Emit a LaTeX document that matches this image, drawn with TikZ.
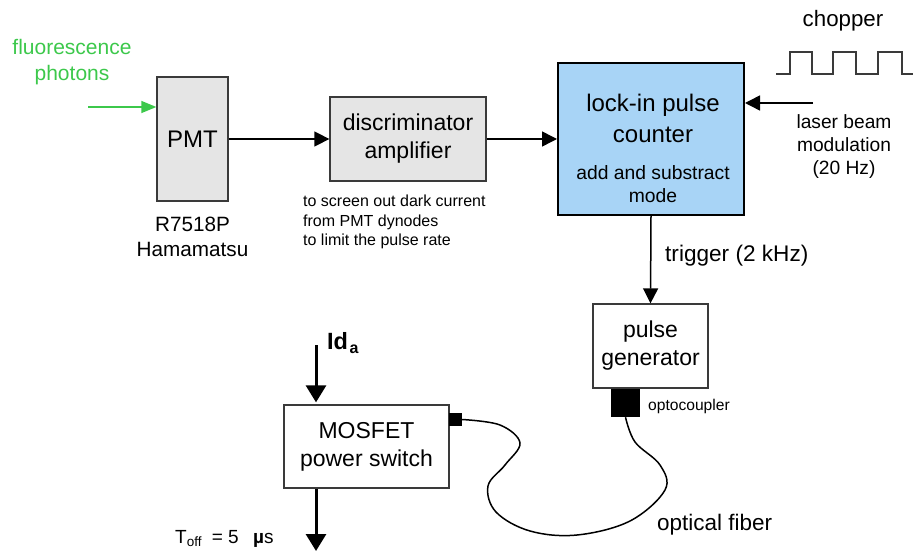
\documentclass[tikz,border=0pt]{standalone}
\usepackage{fontspec}
\setmainfont{Liberation Sans}
\usetikzlibrary{arrows.meta}
\definecolor{boxgray}{HTML}{E5E5E5}
\definecolor{lockblue}{HTML}{A8D4F6}
\definecolor{photgreen}{RGB}{60,200,75}
\definecolor{edgegray}{HTML}{3A3A3A}
\newcommand\fsz[1]{\fontsize{#1}{#1}\selectfont}
\newcommand\fszl[2]{\fontsize{#1}{#2}\selectfont}
\begin{document}
\begin{tikzpicture}[x=1pt,y=-1pt,
  blk/.style={draw=edgegray,line width=1.3pt,inner sep=0pt,align=center},
  arr/.style={line width=1.5pt,-{Triangle[length=15pt,width=15pt]}},
  bigarr/.style={line width=3pt,-{Triangle[length=17pt,width=20pt]}},
  garr/.style={draw=photgreen,line width=1.3pt,-{Triangle[length=15pt,width=12pt]}},
  lbl/.style={inner sep=0pt,anchor=base}]
\useasboundingbox (0,0) rectangle (913,553);
% boxes
\node[blk,fill=boxgray,minimum width=71pt,minimum height=124pt,font=\fsz{24}] (pmt) at (192.5,139) {PMT};
\node[blk,fill=boxgray,minimum width=156pt,minimum height=84pt,font=\fszl{23}{28}] (disc) at (408,139) {discriminator\\amplifier};
\node[blk,draw=black,line width=2pt,fill=lockblue,minimum width=186pt,minimum height=152pt] (lock) at (651,139) {};
\node[blk,fill=white,minimum width=115pt,minimum height=84pt,font=\fszl{23}{28}] (pg) at (650.5,346) {pulse\\generator};
\node[blk,fill=white,minimum width=165pt,minimum height=83pt,font=\fszl{23}{28}] (mos) at (366.5,446.5) {MOSFET\\power switch};
\node[fill=black,inner sep=0pt,minimum width=29pt,minimum height=28pt] (opto) at (625.5,403) {};
\node[fill=black,inner sep=0pt,minimum width=13pt,minimum height=13pt] (msq) at (455.5,419.5) {};
% lock-in texts
\node[lbl,font=\fsz{24}] (l1) at (653,112) {lock-in pulse};
\node[lbl,font=\fsz{24}] (l2) at (653,143) {counter};
\node[lbl,font=\fsz{19.3}] (l3) at (653,180) {add and substract};
\node[lbl,font=\fsz{19.3}] (l4) at (653,203) {mode};
% other labels
\node[lbl,font=\fsz{21},text=photgreen] (f1) at (72,55) {fluorescence};
\node[lbl,font=\fsz{21},text=photgreen] (f2) at (72,81) {photons};
\node[lbl,font=\fsz{20.7}] (r1) at (192.5,232) {R7518P};
\node[lbl,font=\fsz{20.7}] (r2) at (192.5,257) {Hamamatsu};
\node[lbl,font=\fsz{16},anchor=base west] (s1) at (303,207) {to screen out dark current};
\node[lbl,font=\fsz{16},anchor=base west] (s2) at (303,227) {from PMT dynodes};
\node[lbl,font=\fsz{16},anchor=base west] (s3) at (303,246) {to limit the pulse rate};
\node[lbl,font=\fsz{22.3}] (ch) at (843,27) {chopper};
\node[lbl,font=\fsz{19.2}] (m1) at (844,129) {laser beam};
\node[lbl,font=\fsz{19.2}] (m2) at (844,152) {modulation};
\node[lbl,font=\fsz{19.2}] (m3) at (844,175) {(20 Hz)};
\node[lbl,font=\fsz{22.6},anchor=base west] (tr) at (665,262) {trigger (2 kHz)};
\node[lbl,font=\fsz{15.6},anchor=base west] (oc) at (648,410) {optocoupler};
\node[lbl,font=\fsz{22.5},anchor=base west] (of) at (657,530) {optical fiber};
\node[lbl,font=\fsz{23.5}\bfseries,anchor=base west] (id) at (327,349) {Id\hspace{1.5pt}\raisebox{-4pt}{\fsz{16}a}};
\node[lbl,font=\fsz{19},anchor=base west] (toff) at (175,543) {T\raisebox{-3pt}{\fsz{13.5}off}\hspace{5pt} = 5\hspace{9pt} \textbf{µ}s};
% chopper wave
\draw[draw=edgegray,line width=1.4pt] (776,74) -- (790,74) -- (790,52) -- (812,52) -- (812,74) -- (833,74) -- (833,52) -- (856,52) -- (856,74) -- (878,74) -- (878,52) -- (902,52) -- (902,74) -- (913,74);
% connectors
\coordinate (g0) at (88,107);
\draw[garr] (g0) -- (g0 -| pmt.west);
\draw[arr] (pmt) -- (disc);
\draw[arr] (disc) -- (lock);
\coordinate (lz) at (813,103);
\draw[arr] (lz) -- (lz -| lock.east);
\draw[arr] (lock.south) -- (pg.north);
\coordinate (id0) at (316,345);
\draw[bigarr,shorten >=2pt] (id0) -- (id0 |- mos.north);
\coordinate (out0) at (316,551);
\draw[bigarr] (out0 |- mos.south) -- (out0);
% optical fiber
\draw[line width=1.5pt] plot[smooth,tension=0.6] coordinates {(msq.east) (500,425) (520,443) (505,465) (488,486) (496,512) (530,531) (577,535) (630,521) (665,490) (660,465) (635,442) (opto.south)};
\end{tikzpicture}
\end{document}
